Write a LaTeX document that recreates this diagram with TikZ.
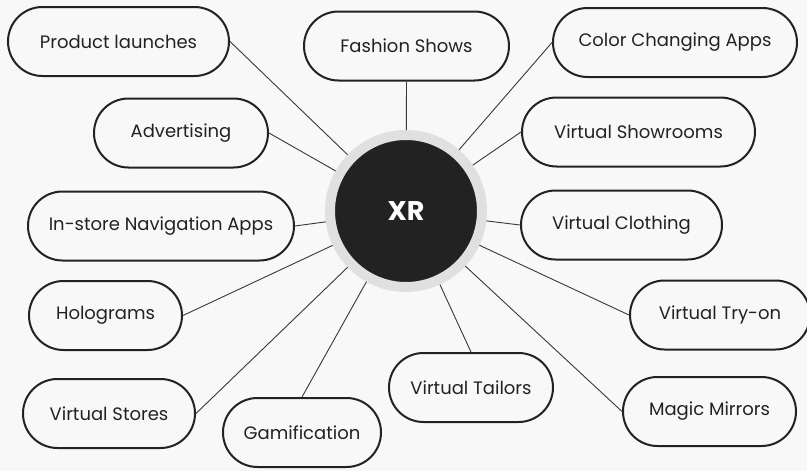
\documentclass[tikz,border=0pt]{standalone}
\usepackage{fontspec}
\setmainfont{Poppins}
\definecolor{bg}{HTML}{F8F8F8}
\definecolor{ink}{HTML}{222222}
\definecolor{ring}{HTML}{E0E0E0}
\begin{document}
\begin{tikzpicture}[x=1pt,y=-1pt,
  item/.style={draw=ink, line width=2pt, fill=bg, rounded corners=34.5pt,
    minimum height=69pt, inner sep=0pt, font=\fontsize{18}{21}\selectfont, text=ink},
  hub/.style={circle, draw=ring, line width=10pt, fill=ink, minimum size=152pt,
    inner sep=0pt, text=white, font=\fontsize{27}{32}\selectfont\bfseries},
  link/.style={draw=ink!90, line width=0.9pt}]
\fill[bg] (0,0) rectangle (807,471);
\useasboundingbox (0,0) rectangle (807,471);
\begin{scope}
\clip (0,0) rectangle (807,471);
\node[hub] (xr) at (406,211) {XR};
\node[item, minimum width=221pt] (pl) at (118.5,41.5) {Product launches};
\node[item, minimum width=205pt] (fs) at (406.5,46) {Fashion Shows};
\node[item, minimum width=244pt] (cca) at (675,42.5) {Color Changing Apps};
\node[item, minimum width=174pt] (adv) at (181,133) {Advertising};
\node[item, minimum width=233pt] (vsr) at (638.5,132) {Virtual Showrooms};
\node[item, minimum width=266pt] (isn) at (161,226) {In-store Navigation Apps};
\node[item, minimum width=201pt] (vc) at (621.5,225) {Virtual Clothing};
\node[item, minimum width=153pt] (holo) at (105.5,315.5) {Holograms};
\node[item, minimum width=180pt] (vto) at (720,315) {Virtual Try-on};
\node[item, minimum width=164pt] (vt) at (471,387.5) {Virtual Tailors};
\node[item, minimum width=173pt] (mm) at (709.5,411.5) {Magic Mirrors};
\node[item, minimum width=172pt] (vs) at (109,413.5) {Virtual Stores};
\node[item, minimum width=158pt] (gam) at (302,432.5) {Gamification};
\foreach \n in {pl,adv,isn,holo,vs} \draw[link] (\n.east) -- (xr);
\foreach \n in {cca,vsr,vc,vto,mm} \draw[link] (\n.west) -- (xr);
\draw[link] (fs.south) -- (xr);
\foreach \n in {gam,vt} \draw[link] (\n.north) -- (xr);
\end{scope}
\end{tikzpicture}
\end{document}
